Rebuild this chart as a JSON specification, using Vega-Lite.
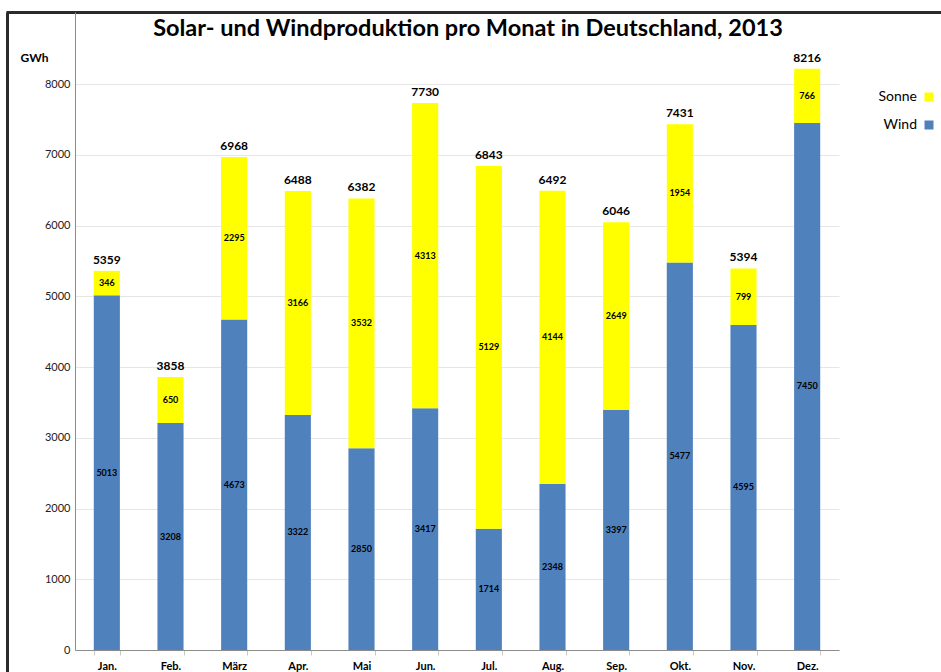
{
  "$schema": "https://vega.github.io/schema/vega-lite/v6.json",
  "autosize": "none",
  "width": 764,
  "height": 638,
  "padding": {"left": 75, "top": 12, "right": 102, "bottom": 22},
  "background": "white",
  "title": {
    "text": "Solar- und Windproduktion pro Monat in Deutschland, 2013",
    "font": "Lato",
    "fontSize": 23.5,
    "fontWeight": "bold",
    "color": "#000000",
    "anchor": "middle",
    "dx": 11,
    "offset": -48,
    "baseline": "alphabetic"
  },
  "datasets": {
    "prod": [
      {"m": "Jan.", "s": "Wind", "v": 5013}, {"m": "Jan.", "s": "Sonne", "v": 346},
      {"m": "Feb.", "s": "Wind", "v": 3208}, {"m": "Feb.", "s": "Sonne", "v": 650},
      {"m": "März", "s": "Wind", "v": 4673}, {"m": "März", "s": "Sonne", "v": 2295},
      {"m": "Apr.", "s": "Wind", "v": 3322}, {"m": "Apr.", "s": "Sonne", "v": 3166},
      {"m": "Mai", "s": "Wind", "v": 2850}, {"m": "Mai", "s": "Sonne", "v": 3532},
      {"m": "Jun.", "s": "Wind", "v": 3417}, {"m": "Jun.", "s": "Sonne", "v": 4313},
      {"m": "Jul.", "s": "Wind", "v": 1714}, {"m": "Jul.", "s": "Sonne", "v": 5129},
      {"m": "Aug.", "s": "Wind", "v": 2348}, {"m": "Aug.", "s": "Sonne", "v": 4144},
      {"m": "Sep.", "s": "Wind", "v": 3397}, {"m": "Sep.", "s": "Sonne", "v": 2649},
      {"m": "Okt.", "s": "Wind", "v": 5477}, {"m": "Okt.", "s": "Sonne", "v": 1954},
      {"m": "Nov.", "s": "Wind", "v": 4595}, {"m": "Nov.", "s": "Sonne", "v": 799},
      {"m": "Dez.", "s": "Wind", "v": 7450}, {"m": "Dez.", "s": "Sonne", "v": 766}
    ],
    "frame": [{"b": 0}, {"b": 1}]
  },
  "layer": [
    {
      "data": {"name": "prod"},
      "layer": [
        {
          "mark": {"type": "bar"},
          "encoding": {
            "x": {"field": "m", "type": "nominal", "sort": ["Jan.", "Feb.", "März", "Apr.", "Mai", "Jun.", "Jul.", "Aug.", "Sep.", "Okt.", "Nov.", "Dez."], "scale": {"paddingInner": 0.59, "paddingOuter": 0.295}, "title": null},
            "y": {"field": "v", "type": "quantitative", "aggregate": "sum", "stack": "zero", "scale": {"domain": [0, 9018], "nice": false, "zero": true}, "axis": {"values": [0, 1000, 2000, 3000, 4000, 5000, 6000, 7000, 8000], "format": "d"}, "title": "GWh"},
            "color": {
              "field": "s", "type": "nominal",
              "scale": {"domain": ["Sonne", "Wind"], "range": ["#FFFF00", "#4F81BD"]},
              "legend": {"orient": "none", "legendX": 847, "legendY": 78, "title": null, "symbolType": "square", "symbolSize": 81, "symbolStrokeWidth": 0, "labelAlign": "right", "labelOffset": -19, "rowPadding": 14, "labelFontSize": 14, "labelFont": "Lato", "labelColor": "#000000", "padding": 0}
            },
            "order": {"field": "s", "sort": "descending"}
          }
        },
        {
          "transform": [
            {"stack": "v", "groupby": ["m"], "sort": [{"field": "s", "order": "descending"}], "as": ["v0", "v1"]},
            {"fold": ["v0", "v1"], "as": ["k", "p"]},
            {"aggregate": [{"op": "mean", "field": "p", "as": "mid"}], "groupby": ["m", "s", "v"]}
          ],
          "mark": {"type": "text", "font": "Lato", "fontSize": 9, "fontWeight": "bold", "color": "#000000", "baseline": "middle"},
          "encoding": {
            "x": {"field": "m", "type": "nominal", "sort": ["Jan.", "Feb.", "März", "Apr.", "Mai", "Jun.", "Jul.", "Aug.", "Sep.", "Okt.", "Nov.", "Dez."], "title": null},
            "y": {"field": "mid", "type": "quantitative", "stack": null, "scale": {"domain": [0, 9018], "nice": false, "zero": true}, "axis": {"values": [0, 1000, 2000, 3000, 4000, 5000, 6000, 7000, 8000], "format": "d"}, "title": "GWh"},
            "text": {"field": "v", "type": "quantitative"}
          }
        },
        {
          "mark": {"type": "text", "font": "Lato", "fontSize": 12, "fontWeight": "bold", "color": "#000000", "baseline": "bottom", "dy": -4},
          "encoding": {
            "x": {"field": "m", "type": "nominal", "sort": ["Jan.", "Feb.", "März", "Apr.", "Mai", "Jun.", "Jul.", "Aug.", "Sep.", "Okt.", "Nov.", "Dez."], "title": null},
            "y": {"field": "v", "type": "quantitative", "aggregate": "sum", "stack": null, "scale": {"domain": [0, 9018], "nice": false, "zero": true}, "axis": {"values": [0, 1000, 2000, 3000, 4000, 5000, 6000, 7000, 8000], "format": "d"}, "title": "GWh"},
            "text": {"field": "v", "type": "quantitative", "aggregate": "sum"}
          }
        }
      ]
    },
    {
      "data": {"name": "frame"},
      "mark": {"type": "point", "opacity": 0, "size": 1},
      "encoding": {
        "x": {"field": "b", "type": "quantitative", "scale": {"domain": [0, 1], "range": [-69, 866], "nice": false, "zero": false},
          "axis": {"orient": "top", "domainColor": "#2b2b2b", "domainWidth": 3, "labels": false, "ticks": false, "grid": false, "title": null}},
        "y": {"field": "b", "type": "quantitative", "scale": {"domain": [0, 1], "range": [660, 0], "nice": false, "zero": false},
          "axis": {"orient": "left", "offset": 68, "domainColor": "#2b2b2b", "domainWidth": 3, "labels": false, "ticks": false, "grid": false, "title": null}}
      }
    }
  ],
  "resolve": {"scale": {"x": "independent", "y": "independent"}},
  "config": {
    "view": {"stroke": null},
    "font": "Lato",
    "axisY": {
      "domainColor": "#8c8c8c", "ticks": false, "gridColor": "#e6e6e6", "grid": true,
      "labelFont": "Lato", "labelFontSize": 11, "labelColor": "#222222", "labelPadding": 5,
      "titleFont": "Lato", "titleFontSize": 12, "titleFontWeight": "bold", "titleColor": "#000000",
      "titleAngle": 0, "titleX": -55, "titleY": 45, "titleAlign": "left", "titleBaseline": "middle"
    },
    "axisX": {
      "domainColor": "#8c8c8c", "ticks": true, "tickBand": "extent", "tickColor": "#c8c8c8", "tickSize": 5,
      "labelAngle": 0, "labelFont": "Lato", "labelFontSize": 11, "labelFontWeight": "bold", "labelColor": "#000000", "labelPadding": 5, "grid": false
    }
  }
}
